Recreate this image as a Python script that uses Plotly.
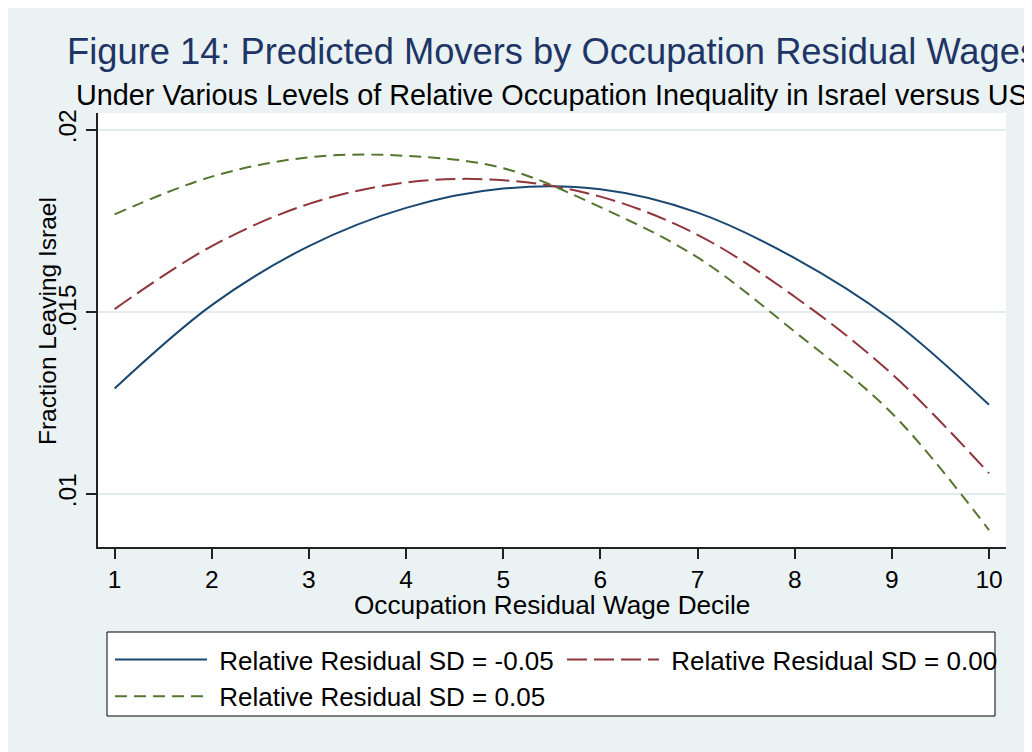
import plotly.graph_objects as go

deciles = [1, 2, 3, 4, 5, 6, 7, 8, 9, 10]
sd_neg = [0.01290, 0.01519, 0.01681, 0.01786, 0.01839, 0.01837, 0.01773, 0.01648, 0.01478, 0.01245]
sd_zero = [0.01508, 0.01681, 0.01797, 0.01856, 0.01862, 0.01817, 0.01712, 0.01542, 0.01330, 0.01057]
sd_pos = [0.01768, 0.01872, 0.01925, 0.01929, 0.01895, 0.01788, 0.01650, 0.01446, 0.01222, 0.00901]
series_names = ["Relative Residual SD = -0.05", "Relative Residual SD = 0.00", "Relative Residual SD = 0.05"]
y_ticks = [0.01, 0.015, 0.02]
y_tick_text = [".01", ".015", ".02"]

W, H = 1032, 752
OFF = 8  # page margin of the browser
L, R, T, B = 98 - OFF, 1006 - OFF, 113 - OFF, 547 - OFF
pw, ph = R - L, B - T

def px(x):
    return (x - OFF - L) / pw

def py(y):
    return (B - (y - OFF)) / ph

FONT = "Liberation Sans, Arial, sans-serif"
BG = "#EAF2F3"
NB = "\u00a0"

fig = go.Figure()
styles = [("#1A476F", "solid"), ("#90353B", "20px,7px"), ("#55752F", "12px,7px")]
for name, vals, (col, dash) in zip(series_names, [sd_neg, sd_zero, sd_pos], styles):
    fig.add_trace(go.Scatter(x=deciles, y=vals, mode="lines", name=NB + name,
                             line=dict(color=col, width=2, dash=dash, shape="spline")))

fig.update_layout(
    width=W, height=H,
    margin=dict(l=L, r=W - R, t=T, b=H - B),
    paper_bgcolor=BG, plot_bgcolor="white",
    font=dict(family=FONT, color="black"),
    showlegend=True,
    legend=dict(orientation="h", xref="container", yref="container",
                x=102 / W, y=1 - 628 / H, xanchor="left", yanchor="top",
                bgcolor="rgba(0,0,0,0)", borderwidth=0,
                font=dict(size=26, family=FONT), itemwidth=92,
                entrywidth=345, tracegroupgap=0),
    xaxis=dict(range=[0.829, 10.175], tickvals=deciles, ticktext=[str(d) for d in deciles],
               showgrid=False, zeroline=False, showline=True, linecolor="#222", linewidth=1.5,
               ticks="outside", ticklen=10, tickcolor="#222", tickwidth=1.5,
               tickfont=dict(size=24.5, family=FONT)),
    yaxis=dict(range=[0.008544, 0.020467], tickvals=y_ticks, ticktext=y_tick_text,
               showgrid=True, gridcolor="#E3ECEE", gridwidth=2, zeroline=False,
               showline=True, linecolor="#222", linewidth=1.5,
               ticks="outside", ticklen=10, tickcolor="#222", tickwidth=1.5,
               tickangle=-90, tickfont=dict(size=24.5, family=FONT)),
    shapes=[dict(type="rect", xref="paper", yref="paper",
                 x0=px(107), x1=px(995), y0=py(632), y1=py(716),
                 fillcolor="white", line=dict(color="black", width=1), layer="below")],
    annotations=[
        dict(text="Figure 14: Predicted Movers by Occupation Residual Wages", xref="paper", yref="paper",
             x=px(552), y=py(51), xanchor="center", yanchor="middle", showarrow=False,
             font=dict(size=36.3, color="#1F3566", family=FONT)),
        dict(text="Under Various Levels of Relative Occupation Inequality in Israel versus US", xref="paper", yref="paper",
             x=px(552), y=py(95), xanchor="center", yanchor="middle", showarrow=False,
             font=dict(size=28.8, color="black", family=FONT)),
        dict(text="Occupation Residual Wage Decile", xref="paper", yref="paper",
             x=px(552), y=py(605), xanchor="center", yanchor="middle", showarrow=False,
             font=dict(size=26.2, color="black", family=FONT)),
        dict(text="Fraction Leaving Israel", xref="paper", yref="paper",
             x=px(47), y=py(321), xanchor="center", yanchor="middle", showarrow=False,
             textangle=-90, font=dict(size=24.5, color="black", family=FONT)),
    ],
)

fig.write_html("out.html")
